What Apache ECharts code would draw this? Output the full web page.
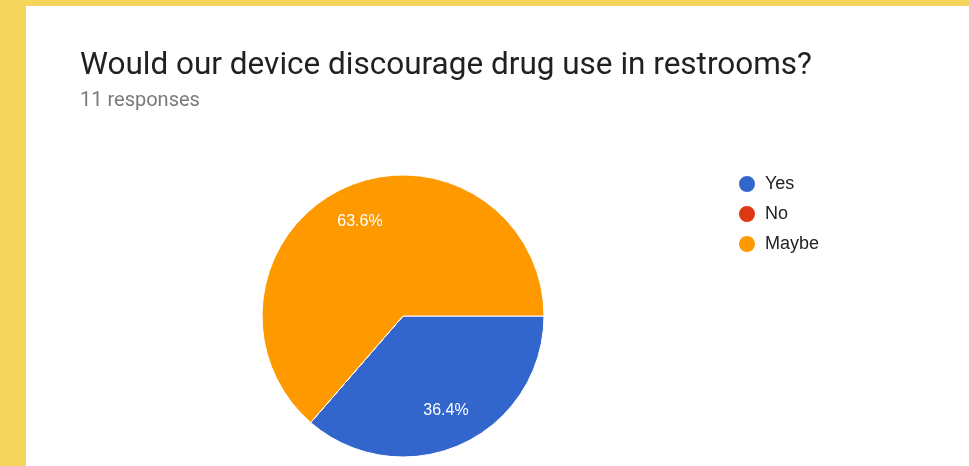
<!DOCTYPE html>
<html>
<head>
<meta charset="utf-8">
<script src="https://cdn.jsdelivr.net/npm/echarts@6/dist/echarts.min.js"></script>
<style>
html,body{margin:0;padding:0;background:#F6D55C;}
#chart{width:969px;height:466px;}
</style>
</head>
<body>
<div id="chart"></div>
<script>
const titleText = 'Would our device discourage drug use in restrooms?';
const subtitleText = '11 responses';
const categories = ['Yes', 'No', 'Maybe'];
const values = [4, 0, 7];
const colors = ['#3366CC', '#DC3912', '#FF9900'];

const data = categories.map((c, i) => ({ name: c, value: values[i], itemStyle: { color: colors[i] } }));

const chart = echarts.init(document.getElementById('chart'), null, { renderer: 'canvas' });
chart.setOption({
  backgroundColor: '#F6D55C',
  animation: false,
  graphic: [
    { type: 'rect', shape: { x: 26, y: 6, width: 943, height: 460 }, style: { fill: '#ffffff' }, z: -10, silent: true }
  ],
  title: {
    text: titleText,
    subtext: subtitleText,
    left: 80,
    top: 50,
    padding: 0,
    itemGap: 9,
    textStyle: { fontFamily: 'Roboto', fontSize: 31.5, fontWeight: 'normal', color: '#202124' },
    subtextStyle: { fontFamily: 'Roboto', fontSize: 20, color: '#7a7a7a' }
  },
  legend: {
    orient: 'vertical',
    left: 737,
    top: 174,
    padding: 0,
    icon: 'circle',
    itemWidth: 18,
    itemHeight: 18,
    itemGap: 10,
    data: categories,
    textStyle: { fontFamily: 'Liberation Sans', fontSize: 18, color: '#222222', padding: [0, 0, 0, 4] }
  },
  series: [
    {
      type: 'pie',
      center: [403, 316],
      radius: [0, 141],
      startAngle: 0,
      clockwise: true,
      data: data,
      label: { show: false },
      labelLine: { show: false },
      itemStyle: { borderColor: '#ffffff', borderWidth: 1 },
      emphasis: { disabled: true }
    },
    {
      type: 'pie',
      center: [403, 316],
      radius: [60, 141],
      startAngle: 0,
      clockwise: true,
      data: data.map(d => ({ name: d.name, value: d.value })),
      percentPrecision: 1,
      itemStyle: { color: 'transparent', borderWidth: 0 },
      label: {
        show: true,
        position: 'inside',
        color: '#ffffff',
        fontFamily: 'Liberation Sans',
        fontSize: 16,
        formatter: p => p.value > 0 ? p.percent.toFixed(1) + '%' : ''
      },
      labelLine: { show: false },
      silent: true,
      legendHoverLink: false,
      emphasis: { disabled: true }
    }
  ]
});
</script>
</body>
</html>
